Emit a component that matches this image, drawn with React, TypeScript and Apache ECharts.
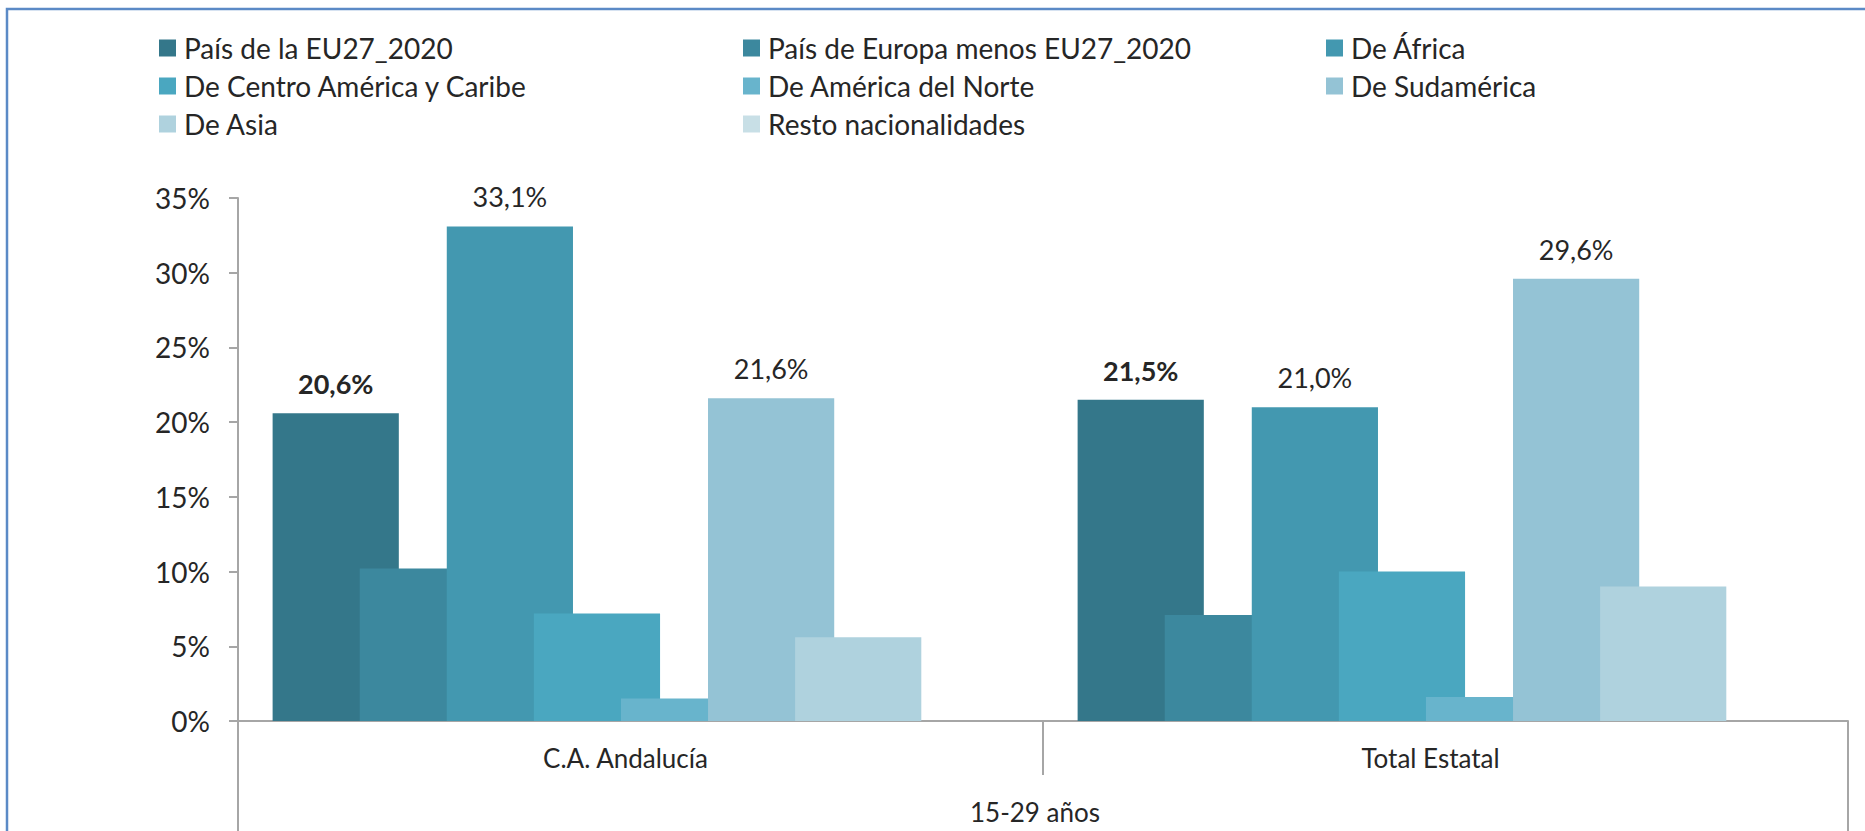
import React, { useEffect, useRef } from "react";
import * as echarts from "echarts";

const categories = ["C.A. Andalucía", "Total Estatal"];
const groupLabel = ["15-29 años"];
const yTicks = [0, 5, 10, 15, 20, 25, 30, 35];

const seriesNames = [
  "País de la EU27_2020",
  "País de Europa menos EU27_2020",
  "De África",
  "De Centro América y Caribe",
  "De América del Norte",
  "De Sudamérica",
  "De Asia",
  "Resto nacionalidades",
];

const eu27 = [20.6, 21.5];
const europaNoEU = [10.2, 7.1];
const africa = [33.1, 21.0];
const centroAmerica = [7.2, 10.0];
const americaNorte = [1.5, 1.6];
const sudamerica = [21.6, 29.6];
const asia = [5.6, 9.0];
const resto = [0.0, 0.0];

const seriesValues = [eu27, europaNoEU, africa, centroAmerica, americaNorte, sudamerica, asia, resto];
const colors = ["#34778A", "#3C889E", "#4398B0", "#4AA7C0", "#68B4CC", "#94C3D5", "#AFD2DE", "#C8DFE6"];
// which series carry value labels, and whether bold
const labelMode = ["bold", "", "normal", "", "", "normal", "", ""];

const legendCols = [
  [seriesNames[0], seriesNames[3], seriesNames[6]],
  [seriesNames[1], seriesNames[4], seriesNames[7]],
  [seriesNames[2], seriesNames[5]],
];
const legendX = [159, 743, 1326];

const FONT = "Lato";
const TXT = "#262626";
const AXIS = "#A6A6A6";

export default function App() {
  const ref = useRef<HTMLDivElement>(null);
  useEffect(() => {
    if (!ref.current) return;
    const chart = echarts.init(ref.current, null, { renderer: "svg" });
    const fmt = (p: any) => Number(p.value).toFixed(1).replace(".", ",") + "%";
    const option: any = {
      animation: false,
      backgroundColor: "#ffffff",
      textStyle: { fontFamily: FONT, color: TXT },
      legend: legendCols.map((cols, i) => ({
        data: cols,
        left: legendX[i],
        top: 34,
        orient: "vertical",
        padding: 0,
        itemGap: 10,
        itemWidth: 17,
        itemHeight: 17,
        icon: "rect",
        selectedMode: false,
        textStyle: { fontFamily: FONT, fontSize: 28, color: TXT, lineHeight: 28, padding: [0, 0, 0, 3] },
      })),
      grid: { left: 238, right: 17, top: 198, bottom: 110, containLabel: false },
      xAxis: [
        {
          type: "category",
          data: categories,
          position: "bottom",
          axisLine: { show: true, lineStyle: { color: AXIS, width: 2 } },
          axisTick: { show: true, length: 54, lineStyle: { color: AXIS, width: 2 } },
          axisLabel: {
            margin: 24,
            fontFamily: FONT,
            fontSize: 26,
            color: TXT,
            padding: [0, 30, 0, 0],
          },
        },
        {
          type: "category",
          data: groupLabel,
          position: "bottom",
          axisLine: { show: false },
          axisTick: { show: true, length: 120, lineStyle: { color: AXIS, width: 2 } },
          axisLabel: { margin: 78, fontFamily: FONT, fontSize: 26, color: TXT, padding: [0, 16, 0, 0] },
        },
      ],
      yAxis: {
        type: "value",
        min: yTicks[0],
        max: yTicks[yTicks.length - 1],
        interval: 5,
        splitLine: { show: false },
        axisLine: { show: true, lineStyle: { color: AXIS, width: 2 } },
        axisTick: { show: true, length: 9, lineStyle: { color: AXIS, width: 2 } },
        axisLabel: {
          margin: 28,
          fontFamily: FONT,
          fontSize: 28,
          color: TXT,
          formatter: (v: number) => v + "%",
        },
      },
      series: seriesNames.map((name, i) => ({
        name,
        type: "bar",
        xAxisIndex: 0,
        data: seriesValues[i],
        barGap: "-31%",
        barCategoryGap: "8.6%",
        itemStyle: { color: colors[i] },
        label: {
          show: labelMode[i] !== "",
          position: "top",
          distance: 16,
          fontFamily: FONT,
          fontSize: 27,
          fontWeight: labelMode[i] === "bold" ? "bold" : "normal",
          color: TXT,
          formatter: fmt,
        },
      })),
      graphic: [
        {
          type: "rect",
          shape: { x: 7, y: 9, width: 1900, height: 900 },
          style: { fill: "none", stroke: "#5B8AC6", lineWidth: 2.5 },
          silent: true,
        },
      ],
    };
    chart.setOption(option);
    return () => chart.dispose();
  }, []);
  return (
    <div
      ref={ref}
      style={{ position: "fixed", left: 0, top: 0, width: 1865, height: 831 }}
    />
  );
}
